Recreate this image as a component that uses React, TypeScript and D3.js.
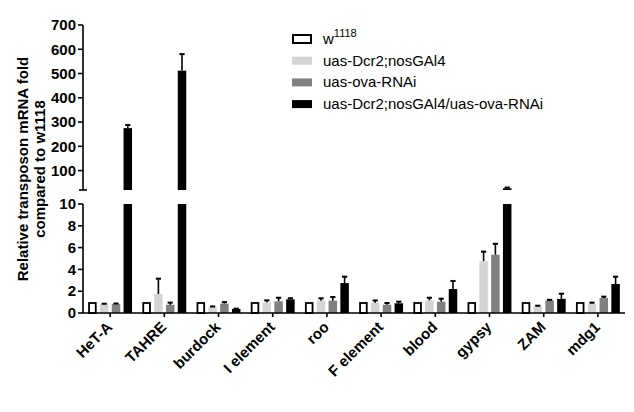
import React from 'react';
import * as d3 from 'd3';

// transposon categories
const categories = ['HeT-A', 'TAHRE', 'burdock', 'I element', 'roo', 'F element', 'blood', 'gypsy', 'ZAM', 'mdg1'];
const seriesNames = ['w1118', 'uas-Dcr2;nosGAl4', 'uas-ova-RNAi', 'uas-Dcr2;nosGAl4/uas-ova-RNAi'];

// mean fold change + upper SEM
const w1118Mean = [1, 1, 1, 1, 1, 1, 1, 1, 1, 1];
const w1118Err = [0, 0, 0, 0, 0, 0, 0, 0, 0, 0];
const dcrMean = [0.8, 1.75, 0.55, 0.98, 1.13, 0.95, 1.16, 4.77, 0.6, 0.86];
const dcrErr = [0.05, 1.4, 0.05, 0.18, 0.22, 0.2, 0.24, 0.86, 0.07, 0.09];
const ovaMean = [0.82, 0.75, 0.86, 1.07, 1.13, 0.76, 1.04, 5.35, 1.16, 1.38];
const ovaErr = [0.05, 0.2, 0.14, 0.33, 0.34, 0.16, 0.27, 1.0, 0.05, 0.12];
const comboMean = [275, 512, 0.37, 1.25, 2.75, 0.89, 2.2, 27, 1.3, 2.66];
const comboErr = [13, 68, 0.03, 0.1, 0.58, 0.15, 0.74, 3, 0.47, 0.67];

const means = [w1118Mean, dcrMean, ovaMean, comboMean];
const errs = [w1118Err, dcrErr, ovaErr, comboErr];
const fills = ['#ffffff', '#d4d4d4', '#808080', '#000000'];

const lowDomain = [0, 10];
const highDomain = [20, 700];

const FONT = '"Liberation Sans", Arial, sans-serif';

export default function App() {
  const left = 83, right = 625;
  const x = d3.scaleBand<string>().domain(categories).range([left, right]).paddingInner(0.19).paddingOuter(0.095);
  const xs = d3.scaleBand<string>().domain(seriesNames).range([0, x.bandwidth()]).paddingInner(0.28);
  const yLow = d3.scaleLinear().domain(lowDomain).range([313, 204]);
  const yHigh = d3.scaleLinear().domain(highDomain).range([190, 25]);

  const bars: any[] = [];
  const errBars: any[] = [];
  categories.forEach((c, i) => {
    seriesNames.forEach((s, k) => {
      const v = means[k][i];
      const e = errs[k][i];
      const bx = (x(c) as number) + (xs(s) as number);
      const bw = xs.bandwidth();
      const white = k === 0;
      const props = {
        fill: fills[k],
        stroke: white ? '#000' : 'none',
        strokeWidth: white ? 1.8 : 0,
      };
      const inset = white ? 0.9 : 0;
      if (v <= lowDomain[1]) {
        bars.push(<rect key={`b${i}-${k}`} x={bx + inset} y={yLow(v) + inset} width={bw - 2 * inset} height={yLow(0) - yLow(v) - inset} {...props} />);
      } else {
        bars.push(<rect key={`b${i}-${k}`} x={bx} y={yLow(lowDomain[1])} width={bw} height={yLow(0) - yLow(lowDomain[1])} {...props} />);
        bars.push(<rect key={`bh${i}-${k}`} x={bx} y={yHigh(v)} width={bw} height={yHigh(highDomain[0]) - yHigh(v)} {...props} />);
      }
      if (e > 0) {
        const y = v <= lowDomain[1] ? yLow : yHigh;
        const cx = bx + bw / 2;
        errBars.push(
          <g key={`e${i}-${k}`} stroke="#000" strokeWidth={1.6}>
            <line x1={cx} x2={cx} y1={y(v)} y2={y(v + e)} />
            <line x1={cx - 2.6} x2={cx + 2.6} y1={y(v + e)} y2={y(v + e)} strokeWidth={2} />
          </g>
        );
      }
    });
  });

  return (
    <svg width={634} height={412} style={{ position: 'absolute', left: 0, top: 0, background: '#fff' }} fontFamily={FONT}>
      {bars}
      {errBars}

      {/* upper y axis */}
      <g stroke="#000" strokeWidth={1.6}>
        <line x1={left} x2={left} y1={yHigh(highDomain[1])} y2={yHigh(highDomain[0])} />
        <line x1={left - 4} x2={left + 4} y1={yHigh(highDomain[0])} y2={yHigh(highDomain[0])} />
        {yHigh.ticks(7).map(t => (
          <line key={t} x1={left - 5} x2={left} y1={yHigh(t)} y2={yHigh(t)} />
        ))}
      </g>
      {yHigh.ticks(7).map(t => (
        <text key={t} x={left - 7} y={yHigh(t)} dy="0.35em" textAnchor="end" fontSize={15} fontWeight="bold">{t}</text>
      ))}

      {/* lower y axis */}
      <g stroke="#000" strokeWidth={1.6}>
        <line x1={left} x2={left} y1={yLow(lowDomain[1])} y2={yLow(0)} />
        {yLow.ticks(5).map(t => (
          <line key={t} x1={left - 5} x2={left} y1={yLow(t)} y2={yLow(t)} />
        ))}
        <line x1={left} x2={right} y1={yLow(0)} y2={yLow(0)} />
        {categories.map(c => {
          const cx = (x(c) as number) + x.bandwidth() / 2;
          return <line key={c} x1={cx} x2={cx} y1={yLow(0)} y2={yLow(0) + 4} />;
        })}
      </g>
      {yLow.ticks(5).map(t => (
        <text key={t} x={left - 7} y={yLow(t)} dy="0.35em" textAnchor="end" fontSize={15} fontWeight="bold">{t}</text>
      ))}

      {/* category labels */}
      {categories.map(c => {
        const cx = (x(c) as number) + x.bandwidth() / 2 + 3;
        const cy = yLow(0) + 15;
        return (
          <text key={c} x={cx} y={cy} textAnchor="end" fontSize={15} fontWeight="bold" transform={`rotate(-45 ${cx} ${cy})`}>{c}</text>
        );
      })}

      {/* y title */}
      <text transform="translate(28,169) rotate(-90)" textAnchor="middle" fontSize={15} fontWeight="bold">Relative transposon mRNA fold</text>
      <text transform="translate(45,169) rotate(-90)" textAnchor="middle" fontSize={15} fontWeight="bold">compared to w1118</text>

      {/* legend */}
      {seriesNames.map((s, k) => {
        const cy = 39 + k * 21.7;
        return (
          <g key={s}>
            <rect x={k === 0 ? 293 : 292} y={cy - 4} width={k === 0 ? 18 : 20} height={8} fill={fills[k]} stroke={k === 0 ? '#000' : 'none'} strokeWidth={2} />
            <text x={323} y={cy + 5} fontSize={15}>
              {k === 0 ? (<>w<tspan dy={-7} fontSize={11}>1118</tspan></>) : s}
            </text>
          </g>
        );
      })}
    </svg>
  );
}
